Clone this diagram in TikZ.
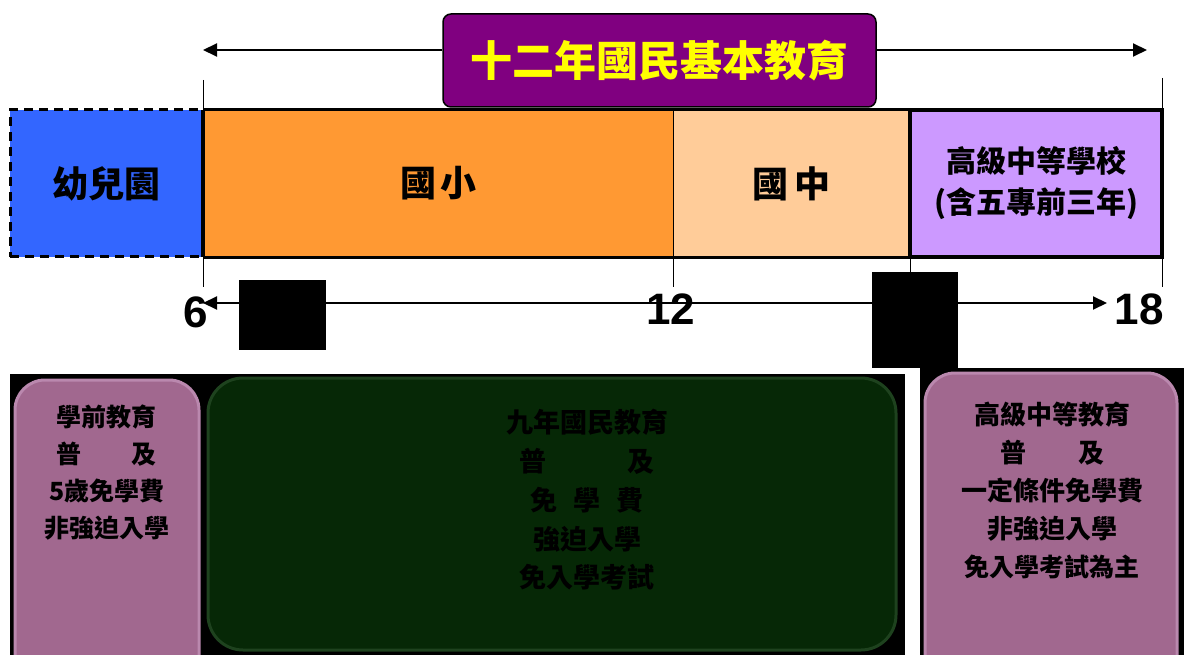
\documentclass[tikz,border=0pt]{standalone}
\usepackage{fontspec}
\setmainfont{Liberation Sans}
\newfontfamily\cjk{Noto Sans CJK TC}
\usetikzlibrary{arrows.meta}
\definecolor{kgblue}{HTML}{3366FF}
\definecolor{elemorange}{HTML}{FF9933}
\definecolor{juniorpeach}{HTML}{FFCC99}
\definecolor{seniorlilac}{HTML}{CC99FF}
\definecolor{titlepurple}{HTML}{800080}
\definecolor{titleyellow}{HTML}{FFFF00}
\definecolor{cardpink}{HTML}{A1688F}
\definecolor{cardpinkrim}{HTML}{BA88AE}
\definecolor{cardgreen}{HTML}{062806}
\definecolor{cardgreenrim}{HTML}{1E421E}

\begin{document}
\begin{tikzpicture}[x=1pt, y=-1pt,
  bar/.style={inner sep=0pt, minimum height=147pt, font=\cjk\bfseries\fontsize{36}{40}\selectfont},
  card/.style={rounded corners=30pt, inner sep=0pt, line width=3pt},
  cardtext/.style={align=center, font=\cjk\bfseries\fontsize{26}{38}\selectfont},
  tick/.style={line width=1pt},
  age/.style={inner sep=0pt, font=\bfseries\fontsize{44}{48}\selectfont},
  spanarrow/.style={line width=2pt, -{Triangle[length=14pt,width=13pt]}},
  timeline/.style={line width=2pt, arrows={Triangle[length=14pt,width=13pt]-Triangle[length=14pt,width=13pt]}}]

\useasboundingbox (0,0) rectangle (1184,655);
\clip (0,0) rectangle (1184,655);

% black backgrounds behind the cards
\fill (10,374) rectangle (905,655);
\fill (920,368) rectangle (1184,655);

\node (precard)[card, fill=cardpink, draw=cardpinkrim, minimum width=184pt, minimum height=310pt] at (107,535) {};
\node (ninecard)[card, rounded corners=35pt, fill=cardgreen, draw=cardgreenrim, minimum width=688pt, minimum height=272pt] at (552,514) {};
\node (highcard)[card, fill=cardpink, draw=cardpinkrim, minimum width=252pt, minimum height=317pt] at (1051,531.5) {};

\node (pretext)[cardtext, font=\cjk\bfseries\fontsize{25}{37}\selectfont] at (107,473) {學前教育\\普　　及\\5歲免學費\\非強迫入學};
\node (ninetext)[cardtext, font=\cjk\bfseries\fontsize{27}{38.75}\selectfont] at (587,500) {九年國民教育\\普　　　及\\免\hspace{0.6em}學\hspace{0.6em}費\\強迫入學\\免入學考試};
\node (hightext)[cardtext] at (1052,490) {高級中等教育\\普　　及\\一定條件免學費\\非強迫入學\\{\fontsize{25}{38}\selectfont 免入學考試為主}};

% ticks
\draw[tick] (203,80) -- (203,287);
\draw[tick] (673,257) -- (673,287);
\draw[tick] (910,257) -- (910,275);
\draw[tick] (1162,78) -- (1162,110) (1162,257) -- (1162,287);

% the bar
\node (kg)[bar, fill=kgblue, draw=black, line width=3pt, dash pattern=on 9pt off 6pt, minimum width=193pt] at (106.5,183.5) {幼兒園};
\node (elem)[bar, fill=elemorange, minimum width=470pt] at (438,183.5) {國\hspace{4pt}小};
\node (junior)[bar, fill=juniorpeach, minimum width=237pt] at (791.5,183.5) {國\hspace{6pt}中};
\draw[line width=1pt] (elem.north east) -- (elem.south east);
\draw[line width=3pt] (elem.north west) -- (junior.north east);
\draw[line width=3pt] (elem.south west) -- (junior.south east);
\draw[line width=4pt] (elem.north west) -- (elem.south west);
\node (senior)[bar, fill=seniorlilac, draw=black, line width=3.5pt, minimum width=252pt, align=center, font=\cjk\bfseries\fontsize{30}{41}\selectfont] at (1036,183.5) {高級中等學校\\(含五專前三年)};

% title and its span
\node (title)[draw=black, line width=1.5pt, fill=titlepurple, rounded corners=8pt, minimum width=433pt, minimum height=93pt, inner sep=0pt, text=titleyellow, font=\cjk\bfseries\fontsize{42}{46}\selectfont] at (659.5,60.5) {十二年國民基本教育};
\coordinate (span6) at (203,50);
\coordinate (span18) at (1147,50);
\draw[spanarrow] (span6 -| title.west) -- (span6);
\draw[spanarrow] (span18 -| title.east) -- (span18);

% age axis
\coordinate (age6) at (203,303);
\coordinate (age18) at (1107,303);
\draw[timeline] (age6) -- (age18);
\node (gapa)[fill=black, inner sep=0pt, minimum width=87pt, minimum height=70pt] at (282.5,315) {};
\node (gapb)[fill=black, inner sep=0pt, minimum width=86pt, minimum height=96pt] at (915,320) {};
\node (lab6)[age] at (196,312) {6};
\node (lab12)[age] at (671,309) {12};
\node (lab18)[age] at (1139,309) {18};

\end{tikzpicture}
\end{document}
